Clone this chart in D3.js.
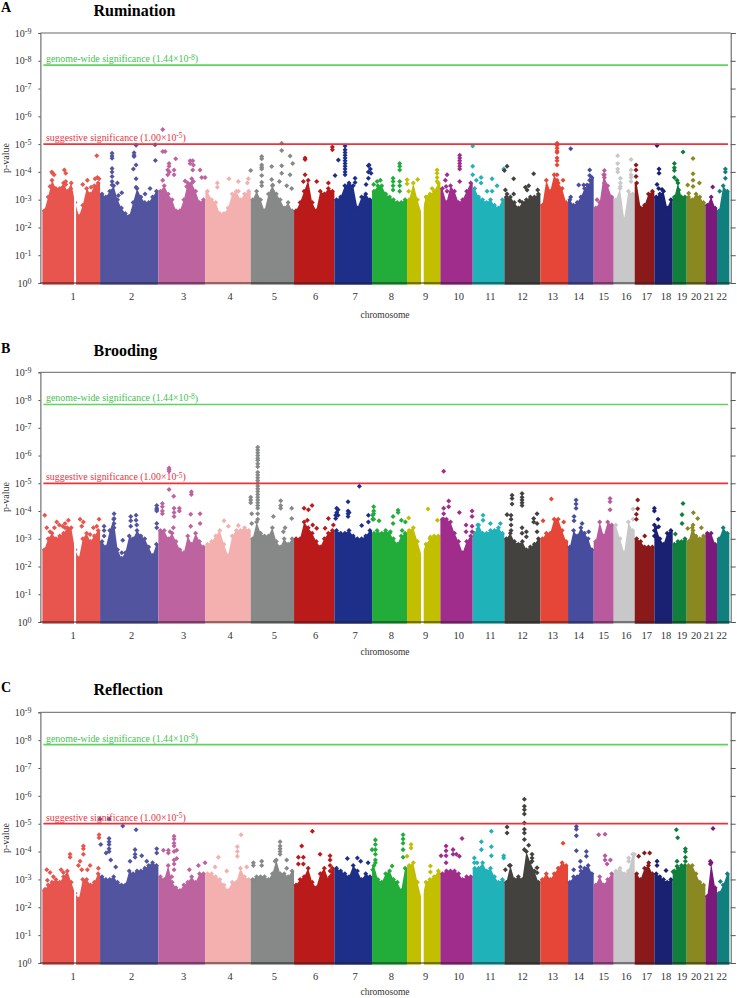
<!DOCTYPE html>
<html>
<head>
<meta charset="utf-8">
<script src="https://cdn.jsdelivr.net/npm/d3@7"></script>
<style>
  body { margin: 0; background: #fff; }
  text { font-family: "Liberation Serif", serif; }
</style>
</head>
<body>
<svg id="chart" width="737" height="998"></svg>
<script>
const chromosomes = ["1","2","3","4","5","6","7","8","9","10","11","12","13","14","15","16","17","18","19","20","21","22"]
const chromEdges = [127,300,475,616,752,882,1003,1116,1221,1321,1418,1513,1621,1704,1781,1841,1904,1963,2018,2060,2116,2151,2188]
const chromLabelPos = [219,395,551,690,823,947,1065,1174,1277,1376,1471,1567,1658,1736,1811,1879,1940,1998,2046,2089,2127,2165]
const chromGaps = [[222,228],[1263,1271]]
const chromColors = ["#e8554e","#53549f","#bd63a0","#f3b0ae","#868988","#bb1a1a","#1d2f88","#22ac3a","#c1bf00","#a02c8c","#1fb3b9","#44423f","#e64637","#474c9f","#b95a9f","#c8c8ca","#8a1a1a","#1a2072","#0f7f3b","#8a8820","#7b1a7a","#10807f"]
const pTicks = [0,1,2,3,4,5,6,7,8,9]
const genomeWide = 7.84
const suggestive = 5

// top of the solid mass per chromosome, -log10(p)
const ruminationTop = [
  [2.6,3.1,3.7,3.4,3.4,3.6,3.3,3.6,2.9,2.4,2.8,3.4,3.2,3.5,3.6],
  [3.2,3.1,3.3,3.5,3.0,2.7,2.5,2.4,2.9,3.4,3.1,2.9,2.9,3.1,3.3],
  [3.3,3.5,3.2,3.0,2.6,2.6,3.0,3.6,3.6,3.3,2.9,3.0],
  [3.3,3.0,2.9,2.5,2.5,2.7,3.2,3.3,3.0,3.2,3.3],
  [3.0,3.3,3.0,2.6,3.2,3.5,3.2,3.0,2.7,2.9,2.6],
  [2.6,2.9,3.3,3.7,2.9,2.6,3.3,3.2,3.4,3.3],
  [3.0,3.1,3.5,3.6,3.5,2.7,3.1,3.2,3.0],
  [3.3,3.5,3.5,3.2,3.1,3.0,2.9,2.9,3.0],
  [3.0,3.6,3.0,2.5,3.1,3.2,3.3,3.6],
  [3.4,2.9,3.5,3.3,2.9,3.0,3.3,3.6],
  [3.4,3.1,3.0,2.9,3.0,2.8,2.7,3.0],
  [3.1,3.1,2.9,2.7,2.9,3.0,3.1,3.1,3.2],
  [2.8,3.7,3.3,3.9,3.6,3.4,2.9],
  [3.0,2.8,2.9,3.1,3.4,3.5,3.8],
  [2.7,2.9,3.9,3.5,3.1],
  [3.0,3.4,2.3,3.3,3.2],
  [3.6,2.7,2.8,3.2,3.3],
  [3.1,3.2,3.3,2.7,3.0],
  [3.1,3.6,3.1,3.1],
  [3.1,3.0,3.2,3.1,2.9],
  [2.8,3.1,2.7],
  [2.6,3.5,3.3]
]
const broodingTop = [
  [2.6,3.0,3.2,3.0,3.1,3.2,3.4,3.4,2.6,2.3,3.0,3.2,2.9,3.1,3.3],
  [2.9,2.7,3.3,3.7,2.6,2.3,2.5,3.1,3.0,3.3,3.1,3.0,2.7,2.4,2.8],
  [3.3,3.3,3.0,3.2,2.9,2.6,2.5,3.1,2.8,3.2,2.9,2.7],
  [2.8,2.9,3.1,3.3,2.8,2.4,3.1,3.3,3.3,3.4,3.3],
  [3.0,3.6,3.2,3.1,3.1,3.4,2.9,2.7,3.0,2.8,3.0],
  [3.0,3.0,3.6,3.4,3.2,2.9,2.7,3.0,3.2,3.3],
  [3.3,3.2,3.2,3.3,3.1,3.0,3.0,3.1,3.3],
  [3.2,3.2,3.2,3.3,3.2,3.0,2.8,3.1,3.2],
  [3.3,3.4,2.9,2.4,2.8,3.0,3.1,3.1],
  [3.7,3.7,3.6,3.2,2.9,2.5,2.9,3.1],
  [3.2,3.5,3.2,3.2,3.3,3.3,3.4,3.2],
  [3.0,3.2,2.9,2.8,2.9,2.6,2.7,2.8,3.0],
  [3.0,3.2,3.2,3.7,3.7,3.3,2.9],
  [2.7,3.3,3.1,3.4,3.2,3.0,2.6],
  [2.9,3.6,3.1,3.6,3.5],
  [3.5,3.0,2.5,3.6,3.3],
  [3.0,2.9,2.7,2.7,2.7],
  [3.4,3.0,2.8,3.2,3.3],
  [2.8,2.9,2.9,3.0],
  [2.9,3.4,3.1,3.0,3.1],
  [3.2,3.2,2.8],
  [3.0,3.4,3.2]
]
const reflectionTop = [
  [2.6,2.8,2.9,3.0,2.9,3.1,3.3,2.9,2.5,2.3,3.0,3.0,2.8,2.9,3.2],
  [3.1,3.0,3.0,3.1,2.9,2.8,2.8,3.3,3.2,3.3,3.3,3.4,3.5,3.6,3.5],
  [3.1,3.0,3.5,2.9,2.7,2.6,2.8,2.9,3.1,2.9,3.2,3.2],
  [3.2,3.2,3.1,3.0,2.8,2.6,2.9,2.9,3.4,3.1,3.0],
  [3.0,3.1,3.1,3.1,3.0,3.2,3.7,3.2,3.2,3.1,3.3],
  [2.8,3.0,3.1,3.4,2.9,2.7,3.2,3.4,3.0,3.4],
  [3.4,3.3,3.2,3.1,3.5,3.3,3.0,3.2,3.1],
  [3.5,3.0,2.9,3.2,3.3,3.0,2.9,2.6,3.4],
  [3.5,3.6,2.9,2.3,2.9,3.0,3.1,3.3],
  [3.2,3.3,3.3,3.3,3.2,3.0,3.1,3.1],
  [3.4,3.4,3.6,3.3,3.4,3.1,2.9,3.0],
  [2.9,3.5,3.0,3.1,3.0,4.0,3.6,3.3,2.9],
  [3.0,3.2,3.0,3.2,3.4,3.6,3.5],
  [2.9,3.1,3.1,3.3,3.4,3.5,3.2],
  [2.8,3.1,2.8,3.0,3.2],
  [3.3,3.4,3.2,3.3,3.9],
  [3.2,3.0,3.4,3.5,3.2],
  [3.2,3.1,3.0,2.9,3.0],
  [3.3,3.4,3.5,3.5],
  [3.5,3.5,3.2,2.9,2.8],
  [2.4,3.6,2.7],
  [2.5,2.8,3.2]
]

// single SNPs above the mass: [position, [-log10(p), ...]]
const ruminationHits = [
  [150,[3.47]],[155,[4.0]],[158,[3.95]],[162,[3.9]],[193,[4.07]],[197,[3.95,3.65,3.55]],[212,[3.4,3.25]],[248,[3.55]],[262,[3.7]],[273,[3.45]],[285,[3.75]],[290,[4.58]],[292,[3.8]],[297,[3.75]],
  [336,[4.67,4.57,4.49,4.12,4.0,3.83,3.65,3.53]],[352,[3.6]],[365,[3.25]],[355,[3.15]],[400,[4.1]],[402,[4.69,4.6,4.55]],[408,[4.96,4.25,3.75,3.45]],[435,[3.2]],[450,[3.4]],[465,[4.98]],[466,[4.41]],
  [488,[5.53,4.73,3.7]],[495,[4.73]],[503,[4.07,3.9]],[507,[4.3,4.2]],[508,[4.0]],[522,[4.07,3.9]],[527,[4.47]],[555,[3.67]],[560,[3.47]],[570,[4.4,4.3]],[575,[3.75]],[578,[4.4,4.07]],[580,[4.25,3.65]],[600,[4.07]],[605,[3.8]],[615,[3.8]],
  [652,[3.6,3.45]],[687,[3.75]],[715,[3.65,3.3]],[742,[3.6]],[745,[3.75]],[752,[4.05]],
  [785,[4.55,4.47,4.25,4.17,4.1,3.87,3.63,3.5]],[815,[4.19,3.73]],[818,[3.53]],[838,[3.65]],[845,[5.03,4.77,4.22,3.95]],[860,[3.5]],[870,[4.57,3.9]],[875,[3.4]],[878,[4.3]],
  [910,[3.65]],[915,[4.5,4.45,3.9]],[950,[3.65]],[985,[3.6]],[997,[4.9,4.8]],[1005,[3.87]],
  [1015,[4.43]],[1035,[4.93,4.8,4.7,4.6,4.5,4.4,4.3,4.2,4.1,4.0,3.9]],[1065,[3.77,3.62]],[1098,[3.55]],[1105,[4.22,4.0,3.77]],[1107,[4.25]],[1111,[4.1]],[1113,[3.95]],[1121,[3.55]],
  [1141,[3.7]],[1131,[3.65]],[1179,[3.77,3.65,3.5,3.35]],[1199,[4.3,4.2,4.07,3.65,3.5,3.3]],[1221,[3.72,3.57]],[1226,[3.3]],
  [1253,[3.73]],[1311,[4.07,3.95,3.8,3.65]],[1296,[3.4]],[1281,[3.1]],
  [1341,[3.9]],[1336,[3.7]],[1338,[3.47]],[1341,[3.3]],[1379,[4.6,4.5,4.4,4.3,4.2,4.1,3.65]],[1418,[4.93,4.2,3.9]],
  [1429,[3.7]],[1443,[3.8,3.6]],[1461,[3.3]],[1476,[3.75]],[1476,[3.3]],[1491,[3.5]],[1511,[4.1]],[1516,[3.35]],[1521,[4.2,3.2]],[1513,[4.05]],
  [1541,[3.75,3.2]],[1559,[2.95]],[1576,[3.45]],[1581,[3.35]],[1586,[3.5]],[1601,[3.93]],[1613,[3.35]],
  [1671,[5.03,4.95,4.85,4.75,4.7,4.5,4.4,4.25,3.9,3.7,3.55,3.35]],[1689,[3.7]],
  [1712,[4.83,3.1]],[1736,[3.53]],[1751,[3.53]],[1761,[3.53]],[1769,[4.07,3.87,3.7]],
  [1813,[4.05,3.9,3.8,3.6]],[1791,[3.0]],
  [1853,[4.58,4.3,4.1,4.0]],[1861,[3.77,3.6,3.47]],[1893,[4.45,4.07,3.9,3.8,3.65]],[1908,[4.25,4.07,3.83]],
  [1971,[4.95]],[1971,[3.55]],[1976,[3.4]],[1977,[4.1,3.95]],[1986,[3.37]],
  [2023,[4.3,4.15,4.05,3.8]],[2031,[3.7]],[2036,[3.35]],[2049,[4.72]],[2063,[3.53]],
  [2066,[3.23]],[2079,[4.48,3.93,3.7,3.47]],[2098,[3.6]],
  [2138,[3.46]],[2159,[3.3]],[2176,[4.1,4.0,3.77]]
]
const broodingHits = [
  [134,[3.85]],[140,[3.4]],[150,[3.25]],[163,[3.4]],[170,[3.6]],[178,[3.5]],[188,[3.45]],[195,[3.55,3.4]],[205,[3.67]],[240,[3.7]],[245,[3.45]],[250,[3.6]],[270,[3.15]],[280,[3.4]],[290,[3.45]],[297,[3.7]],
  [312,[3.45,3.3,3.1]],[342,[3.9,3.73,3.55,3.4]],[365,[2.5]],[368,[2.95]],[392,[3.8,3.65,3.45]],[408,[3.85,3.67]],[410,[3.5]],[470,[4.2,4.1,4.05,4.0,3.55,3.4]],
  [487,[4.27,4.15,4.0,3.9]],[507,[5.49,5.55,5.43,4.78]],[510,[3.25]],[520,[3.4]],[521,[4.53]],[522,[4.1,3.95,3.8]],[538,[4.1,4.0]],[572,[3.88,3.45]],[574,[4.69,4.6]],[600,[3.9,3.55]],
  [650,[3.06]],[672,[3.65]],[685,[3.45]],[715,[3.48]],[752,[4.5,4.4,4.3]],[755,[3.9,3.55]],
  [773,[6.3,6.2,6.1,6.0,5.9,5.83,5.7,5.6,5.4,5.3,5.2,5.1,5.0,4.9,4.8,4.7,4.6,4.5,4.4,4.3,4.2,4.1,3.9,3.7]],[820,[3.8]],[842,[4.37,4.2,4.1]],[850,[3.25]],[855,[3.4]],[875,[4.1,3.73]],
  [912,[4.1]],[925,[4.05]],[922,[3.67]],[936,[4.2]],[938,[3.5]],[950,[3.375]],[975,[3.375]],[985,[3.73]],[1000,[3.5]],[1007,[3.85,3.73]],
  [1010,[4.1,3.95,3.85]],[1014,[4.05,3.85]],[1044,[4.33,4.0,3.9,3.8]],[1047,[3.95]],[1078,[4.89]],[1085,[3.48]],[1105,[3.85,3.6]],[1118,[3.85,3.7]],[1121,[4.15,4.0,3.9,3.7]],
  [1137,[3.65]],[1131,[3.3]],[1171,[3.25]],[1179,[3.8,3.55]],[1194,[4.03,3.95]],[1204,[3.67]],[1206,[3.3]],[1216,[3.6]],[1226,[3.75]],
  [1284,[4.07]],[1291,[3.06]],[1312,[3.67]],
  [1331,[5.43,4.1,3.9,3.7]],[1346,[4.36,4.15]],[1378,[3.95]],[1398,[3.5,3.25]],[1416,[4.0,3.8,3.45,3.25]],
  [1433,[3.5,3.35,3.2]],[1449,[3.85,3.67]],[1471,[3.55]],[1501,[3.55]],[1521,[3.87]],
  [1533,[3.85,3.7,3.5,3.3]],[1536,[4.57,4.45,4.25]],[1566,[4.63,4.5,4.4,4.3,4.2,3.4,3.2]],[1579,[3.25,3.07]],[1601,[3.73,3.6]],[1611,[3.9,3.55,3.25]],
  [1629,[3.65]],[1654,[4.43]],[1691,[3.6]],
  [1722,[3.8,3.65]],[1728,[4.4,4.25,4.1]],[1746,[3.55]],[1766,[3.25]],
  [1830,[4.45,4.33,4.05]],[1899,[4.07,3.7]],[1909,[3.88,3.7]],
  [1913,[4.4,4.08]],[1934,[3.1]],[1963,[4.1,4.0,3.5,3.3,3.1]],[1974,[3.7]],[1976,[3.43]],
  [2026,[3.17]],[2046,[3.87,3.55]],[2049,[4.27]],[2063,[3.37]],
  [2079,[3.5,3.3]],[2080,[3.94]],[2093,[3.73]],[2104,[3.4]]
]
const reflectionHits = [
  [135,[2.65]],[140,[3.35]],[142,[2.97]],[150,[3.25]],[160,[3.1]],[183,[3.35]],[190,[3.25]],[210,[3.9,3.8]],[235,[3.5]],[240,[3.65]],[245,[3.35]],[250,[4.2,4.1,3.9]],[262,[3.35]],[270,[3.5]],[295,[3.4]],[297,[4.6,4.5]],[300,[5.17]],[302,[4.25]],
  [318,[3.95]],[327,[5.17,4.47,4.35,4.25,4.1,4.0]],[332,[3.7]],[347,[3.45]],[368,[4.92]],[390,[3.65]],[405,[4.07,3.9,3.8]],[408,[4.78]],[425,[3.85]],[440,[3.65]],[470,[4.1,3.95]],
  [490,[4.05]],[505,[4.05,3.95]],[515,[3.1]],[522,[4.55,4.45,4.3,4.2,4.0,3.7,3.55,3.35]],[530,[4.05,3.75]],[568,[3.35]],[595,[3.5]],[615,[3.6]],
  [645,[3.45]],[655,[3.8]],[680,[3.3]],[712,[4.17,4.0,3.83]],[723,[4.6]],[740,[3.45]],
  [760,[3.6,3.5]],[785,[3.65,3.5]],[825,[3.65]],[840,[4.35,4.2,4.1,4.0,3.9]],[860,[3.7,3.4]],
  [895,[3.8,3.55]],[905,[4.2]],[910,[3.8,3.55]],[937,[4.73]],[960,[3.9]],[990,[3.85,3.7,3.5,3.3,3.1]],
  [1042,[3.75]],[1072,[3.77]],[1082,[3.65]],[1104,[3.6]],[1116,[4.07]],[1118,[3.35]],
  [1126,[4.42,4.25,4.07,3.9,3.7,3.6]],[1176,[3.48]],[1209,[4.6,4.45,4.3,4.07,3.8]],[1221,[3.83]],
  [1233,[4.25,4.13]],[1291,[3.48,3.27]],[1323,[3.85]],
  [1329,[3.05]],[1338,[4.2,4.03,3.85,3.6]],[1359,[4.07,3.9]],[1369,[3.9]],[1378,[3.83]],[1386,[4.47]],[1423,[3.77,3.6]],
  [1431,[3.6]],[1444,[4.35,4.07]],[1474,[4.73,4.17,3.85]],[1511,[3.85,3.77]],[1516,[3.35]],[1521,[4.88,4.67]],
  [1528,[3.5]],[1573,[5.88,5.63,5.5,5.35,5.03,4.8,4.67,4.43,4.07]],[1586,[4.23]],[1596,[3.9,3.77,3.65]],[1611,[3.42,3.24]],
  [1689,[4.3]],
  [1721,[3.35]],[1729,[4.9,4.8,4.57]],[1741,[3.65,3.45]],[1729,[4.03]],[1759,[4.0,3.83]],
  [1796,[4.6]],[1815,[4.62,3.85,3.7]],[1821,[3.55]],[1831,[3.7]],
  [1886,[3.77,3.65]],[1903,[3.9]],
  [1916,[3.83]],[1933,[3.95]],[1946,[3.6]],[1949,[3.95]],
  [1971,[3.65,3.5]],[1998,[3.32]],[2019,[3.28]],
  [2029,[4.78]],[2031,[3.65,3.47]],[2033,[4.5]],[2056,[4.1,4.0,3.8,3.65]],
  [2131,[3.65,3.55]],[2139,[4.83]],[2161,[2.93]]
]

const panelLetters = ["A","B","C"]
const panelTitles = ["Rumination","Brooding","Reflection"]
const panelTop = [33,372.3,712.3]
const panelBottom = [283,622,963]
const panelTitleY = [16,355.5,695]
const panelLetterY = [12,352.5,691.5]
const panelXlabelY = [318,655,995]
const panelTops = [ruminationTop,broodingTop,reflectionTop]
const panelHits = [ruminationHits,broodingHits,reflectionHits]

const svg = d3.select("#chart")

const x = d3.scaleLinear().domain([121,2192]).range([40.4,730.7])
const diamond = d3.symbol().type(d3.symbolDiamond2).size(16)

const chromOf = pos => Math.min(d3.bisectRight(chromEdges,pos)-1, chromosomes.length-1)

panelTitles.forEach((title,p)=>{

  const y = d3.scaleLinear().domain([0,9]).range([panelBottom[p],panelTop[p]])
  const g = svg.append("g")

  /* Mass of each chromosome
  ---------------------------------------------------------------------------*/
  panelTops[p].forEach((tops,c)=>{
    const step = (chromEdges[c+1]-chromEdges[c])/tops.length
    const color = chromColors[c]
    const chrom = g.append("g").attr("class","chr"+chromosomes[c])
    const samples = tops.map((v,i)=>({pos:chromEdges[c]+(i+.5)*step,logp:v}))
    const outline = [
      {pos:chromEdges[c],logp:tops[0]},
      ...samples,
      {pos:chromEdges[c+1],logp:tops[tops.length-1]}
    ]

    chrom.append("path")
      .datum(outline)
      .attr("d",d3.area().x(d=>x(d.pos)).y0(y(-.06)).y1(d=>y(d.logp)))
      .style("fill",color)

    chrom.selectAll("path.top")
      .data(samples)
      .enter()
      .append("path")
      .attr("class","top")
      .attr("d",diamond)
      .attr("transform",d=>"translate("+x(d.pos)+","+y(d.logp)+")")
      .style("fill",color)
  })

  // Centromere gaps
  g.selectAll("rect.gap")
    .data(chromGaps)
    .enter()
    .append("rect")
    .attr("class","gap")
    .attr("x",d=>x(d[0]))
    .attr("width",d=>x(d[1])-x(d[0]))
    .attr("y",y(3.8))
    .attr("height",y(-.1)-y(3.8))
    .style("fill","#fff")

  /* Hits
  ---------------------------------------------------------------------------*/
  const hits = panelHits[p].flatMap(h=>h[1].map(v=>({pos:h[0],logp:v})))
  g.selectAll("path.hit")
    .data(hits)
    .enter()
    .append("path")
    .attr("class","hit")
    .attr("d",diamond)
    .attr("transform",d=>"translate("+x(d.pos)+","+y(d.logp)+")")
    .style("fill",d=>chromColors[chromOf(d.pos)])

  /* Axes
  ---------------------------------------------------------------------------*/
  const left = g.append("g")
    .attr("transform","translate("+x.range()[0]+",0)")
    .call(d3.axisLeft(y).tickValues(pTicks).tickSize(2).tickFormat(""))
  left.select(".domain").style("stroke","#555")
  left.selectAll(".tick line").style("stroke","#555")
  const labels = left.selectAll(".tick text")
    .attr("x",-9)
    .attr("dy",".32em")
    .style("font-size","10px")
    .style("font-family","'Liberation Serif', serif")
    .style("fill","#333")
    .attr("text-anchor","end")
  labels.append("tspan").text("10")
  labels.append("tspan").attr("dy","-.35em").style("font-size","8px").text(d=>d===0?"0":"-"+d)

  const right = g.append("g")
    .attr("transform","translate("+x.range()[1]+",0)")
    .call(d3.axisRight(y).tickValues(pTicks).tickSize(5).tickFormat(""))
  right.select(".domain").style("stroke","#555")
  right.selectAll(".tick line").style("stroke","#555")

  g.append("line")
    .attr("x1",x.range()[0]).attr("x2",x.range()[1])
    .attr("y1",y(9)).attr("y2",y(9))
    .style("stroke","#666").style("stroke-width",1)
  g.append("line")
    .attr("x1",x.range()[0]).attr("x2",x.range()[1])
    .attr("y1",y(0)).attr("y2",y(0))
    .style("stroke","#222").style("stroke-width",1)

  g.selectAll("text.chrom")
    .data(chromosomes)
    .enter()
    .append("text")
    .attr("class","chrom")
    .attr("x",(d,i)=>x(chromLabelPos[i]))
    .attr("y",y(0)+17)
    .attr("text-anchor","middle")
    .style("font-size","10.5px")
    .style("fill","#333")
    .text(d=>d)

  g.append("text")
    .attr("x",385).attr("y",panelXlabelY[p])
    .attr("text-anchor","middle")
    .style("font-size","9.5px")
    .style("fill","#333")
    .text("chromosome")

  g.append("text")
    .attr("transform","translate(9,"+(y(0)-125)+") rotate(-90)")
    .attr("text-anchor","middle")
    .style("font-size","10px")
    .style("fill","#333")
    .text("p-value")

  /* Thresholds
  ---------------------------------------------------------------------------*/
  const thresholds = [
    {v:genomeWide,color:"#5fd35f",textColor:"#44bf50",text:"genome-wide significance (1.44×10",exp:"-8"},
    {v:suggestive,color:"#e8343f",textColor:"#e8343f",text:"suggestive significance (1.00×10",exp:"-5"}
  ]
  thresholds.forEach(t=>{
    g.append("line")
      .attr("x1",x(130)).attr("x2",x(2184))
      .attr("y1",y(t.v)).attr("y2",y(t.v))
      .style("stroke",t.color).style("stroke-width",1.7)
    const label = g.append("text")
      .attr("x",46).attr("y",y(t.v)-3)
      .style("font-size","9.9px")
      .style("fill",t.textColor)
    label.append("tspan").text(t.text)
    label.append("tspan").attr("dy","-.35em").style("font-size","7.5px").text(t.exp)
    label.append("tspan").attr("dy",".28em").text(")")
  })

  /* Titles
  ---------------------------------------------------------------------------*/
  g.append("text")
    .attr("x",93.5).attr("y",panelTitleY[p])
    .style("font-size","16px").style("font-weight","bold")
    .text(title)
  g.append("text")
    .attr("x",1).attr("y",panelLetterY[p])
    .style("font-size","14px").style("font-weight","bold")
    .text(panelLetters[p])
})
</script>
</body>
</html>
